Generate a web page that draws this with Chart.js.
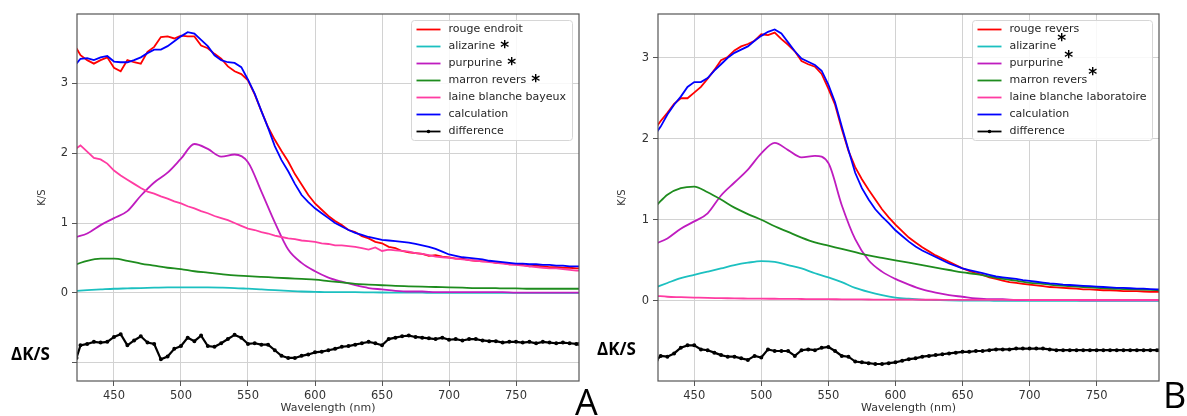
<!doctype html>
<html lang="fr">
<head>
	<meta charset="UTF-8">
	<title>K/S - rouge endroit / rouge revers</title>
	<script src="https://cdn.jsdelivr.net/npm/chart.js@4"></script>
	<style>
		body { margin: 0; background: #fff; width: 1187px; height: 416px; overflow: hidden; position: relative; }
		canvas { position: absolute; top: 0; }
		#chartA { left: 0; }
		#chartB { left: 595px; }
	</style>
</head>
<body>
	<canvas id="chartA" width="600" height="416"></canvas>
	<canvas id="chartB" width="592" height="416"></canvas>
	<script>
		// wavelengths (nm) for the noisy measured curves and for the smooth reference curves
		const wavelengths = [
			422, 425, 430, 435, 440, 445, 450, 455, 460, 465,
			470, 475, 480, 485, 490, 495, 500, 505, 510, 515,
			520, 525, 530, 535, 540, 545, 550, 555, 560, 565,
			570, 575, 580, 585, 590, 595, 600, 605, 610, 615,
			620, 625, 630, 635, 640, 645, 650, 655, 660, 665,
			670, 675, 680, 685, 690, 695, 700, 705, 710, 715,
			720, 725, 730, 735, 740, 745, 750, 755, 760, 765,
			770, 775, 780, 785, 790, 795, 797
		];
		const wavelengthsCoarse = [
			422, 430, 440, 450, 460, 470, 480, 490, 500, 510,
			520, 530, 540, 550, 560, 570, 580, 590, 600, 610,
			620, 630, 640, 650, 660, 670, 680, 690, 700, 710,
			720, 730, 740, 750, 760, 770, 780, 790, 797
		];

		// ---- panel A ----
		const rougeEndroit = [
			3.50, 3.40, 3.33, 3.28, 3.33, 3.37, 3.22, 3.17, 3.33, 3.30,
			3.28, 3.45, 3.52, 3.66, 3.67, 3.64, 3.68, 3.67, 3.67, 3.54,
			3.50, 3.42, 3.35, 3.24, 3.17, 3.13, 3.04, 2.84, 2.60, 2.37,
			2.19, 2.03, 1.88, 1.70, 1.55, 1.40, 1.28, 1.19, 1.10, 1.03,
			0.97, 0.90, 0.87, 0.81, 0.78, 0.73, 0.71, 0.66, 0.64, 0.60,
			0.58, 0.57, 0.56, 0.53, 0.54, 0.52, 0.51, 0.49, 0.49, 0.47,
			0.46, 0.45, 0.45, 0.43, 0.43, 0.41, 0.41, 0.40, 0.38, 0.39,
			0.38, 0.37, 0.37, 0.36, 0.36, 0.35, 0.35
		];
		const calculationA = [
			3.28, 3.35, 3.36, 3.33, 3.37, 3.39, 3.31, 3.30, 3.30, 3.33,
			3.37, 3.43, 3.48, 3.48, 3.53, 3.60, 3.67, 3.73, 3.71, 3.62,
			3.53, 3.40, 3.33, 3.30, 3.29, 3.23, 3.05, 2.85, 2.60, 2.36,
			2.10, 1.90, 1.74, 1.56, 1.40, 1.30, 1.21, 1.14, 1.07, 1.00,
			0.95, 0.90, 0.86, 0.83, 0.80, 0.78, 0.76, 0.75, 0.74, 0.73,
			0.72, 0.70, 0.68, 0.66, 0.63, 0.59, 0.55, 0.53, 0.51, 0.50,
			0.49, 0.48, 0.46, 0.45, 0.44, 0.43, 0.42, 0.42, 0.41, 0.41,
			0.40, 0.40, 0.39, 0.39, 0.38, 0.38, 0.38
		];
		const laineBayeux = [
			2.07, 2.11, 2.02, 1.93, 1.91, 1.85, 1.75, 1.68, 1.62, 1.56,
			1.50, 1.45, 1.42, 1.38, 1.35, 1.31, 1.28, 1.24, 1.21, 1.17,
			1.14, 1.10, 1.07, 1.04, 1.00, 0.96, 0.92, 0.90, 0.87, 0.85,
			0.82, 0.80, 0.78, 0.77, 0.75, 0.74, 0.73, 0.71, 0.70, 0.68,
			0.68, 0.67, 0.66, 0.64, 0.62, 0.65, 0.60, 0.62, 0.61, 0.60,
			0.59, 0.57, 0.56, 0.54, 0.52, 0.51, 0.50, 0.49, 0.48, 0.47,
			0.46, 0.45, 0.44, 0.43, 0.42, 0.41, 0.40, 0.39, 0.38, 0.37,
			0.36, 0.35, 0.35, 0.34, 0.33, 0.32, 0.32
		];
		const differenceA = [
			-0.93, -0.75, -0.73, -0.70, -0.71, -0.70, -0.63, -0.59, -0.75, -0.68,
			-0.62, -0.71, -0.73, -0.95, -0.91, -0.80, -0.76, -0.64, -0.69, -0.61,
			-0.76, -0.77, -0.72, -0.66, -0.60, -0.64, -0.73, -0.72, -0.74, -0.74,
			-0.82, -0.90, -0.93, -0.93, -0.90, -0.88, -0.85, -0.84, -0.82, -0.80,
			-0.77, -0.76, -0.74, -0.72, -0.70, -0.72, -0.75, -0.66, -0.64, -0.62,
			-0.61, -0.63, -0.64, -0.65, -0.66, -0.64, -0.67, -0.66, -0.68, -0.66,
			-0.66, -0.68, -0.69, -0.69, -0.71, -0.70, -0.70, -0.71, -0.70, -0.72,
			-0.70, -0.71, -0.72, -0.71, -0.72, -0.73, -0.73
		];
		const purpurineA = [
			0.80, 0.85, 0.97, 1.07, 1.17, 1.39, 1.58, 1.72, 1.92, 2.13,
			2.06, 1.95, 1.98, 1.87, 1.45, 1.01, 0.62, 0.43, 0.31, 0.22,
			0.16, 0.11, 0.07, 0.05, 0.03, 0.02, 0.02, 0.01, 0.01, 0.01,
			0.01, 0.01, 0.01, 0.005, 0.005, 0.005, 0.005, 0.005, 0.005
		];
		const marronA = [
			0.41, 0.46, 0.49, 0.49, 0.46, 0.42, 0.39, 0.36, 0.34, 0.31,
			0.29, 0.27, 0.25, 0.24, 0.23, 0.22, 0.21, 0.20, 0.19, 0.17,
			0.15, 0.13, 0.12, 0.11, 0.10, 0.095, 0.09, 0.085, 0.08, 0.075,
			0.07, 0.07, 0.065, 0.065, 0.06, 0.06, 0.06, 0.06, 0.06
		];
		const alizarineA = [
			0.03, 0.04, 0.05, 0.06, 0.065, 0.07, 0.075, 0.08, 0.08, 0.08,
			0.078, 0.075, 0.07, 0.06, 0.05, 0.04, 0.03, 0.02, 0.015, 0.01,
			0.01, 0.01, 0.008, 0.006, 0.005, 0.004, 0.003, 0.002, 0.002, 0.001,
			0, 0, 0, 0, 0, 0, 0, 0, 0
		];

		// ---- panel B ----
		const rougeRevers = [
			2.15, 2.22, 2.32, 2.43, 2.50, 2.50, 2.57, 2.64, 2.74, 2.85,
			2.97, 3.01, 3.09, 3.14, 3.17, 3.21, 3.29, 3.28, 3.31, 3.23,
			3.16, 3.08, 2.96, 2.92, 2.89, 2.80, 2.62, 2.42, 2.12, 1.85,
			1.65, 1.50, 1.37, 1.25, 1.13, 1.03, 0.94, 0.86, 0.78, 0.72,
			0.66, 0.61, 0.56, 0.52, 0.48, 0.44, 0.40, 0.37, 0.34, 0.32,
			0.29, 0.27, 0.25, 0.23, 0.22, 0.21, 0.20, 0.19, 0.18, 0.17,
			0.165, 0.16, 0.155, 0.15, 0.14, 0.14, 0.135, 0.13, 0.13, 0.125,
			0.12, 0.12, 0.12, 0.115, 0.11, 0.11, 0.11
		];
		const calculationB = [
			2.08, 2.15, 2.30, 2.42, 2.52, 2.64, 2.70, 2.70, 2.75, 2.84,
			2.92, 3.00, 3.06, 3.10, 3.14, 3.21, 3.27, 3.32, 3.35, 3.30,
			3.19, 3.08, 2.99, 2.95, 2.91, 2.84, 2.67, 2.45, 2.15, 1.86,
			1.58, 1.39, 1.25, 1.13, 1.04, 0.96, 0.87, 0.80, 0.73, 0.67,
			0.62, 0.58, 0.54, 0.50, 0.46, 0.43, 0.40, 0.38, 0.36, 0.34,
			0.32, 0.30, 0.29, 0.28, 0.27, 0.255, 0.245, 0.235, 0.225, 0.215,
			0.21, 0.20, 0.195, 0.19, 0.185, 0.18, 0.175, 0.17, 0.165, 0.16,
			0.16, 0.155, 0.15, 0.15, 0.145, 0.14, 0.14
		];
		const differenceB = [
			-0.73, -0.68, -0.69, -0.65, -0.58, -0.55, -0.55, -0.60, -0.61, -0.64,
			-0.67, -0.69, -0.69, -0.71, -0.73, -0.68, -0.70, -0.60, -0.62, -0.62,
			-0.62, -0.68, -0.61, -0.60, -0.61, -0.58, -0.57, -0.62, -0.68, -0.69,
			-0.75, -0.76, -0.77, -0.78, -0.78, -0.77, -0.76, -0.74, -0.72, -0.71,
			-0.69, -0.68, -0.67, -0.66, -0.65, -0.64, -0.63, -0.63, -0.62, -0.62,
			-0.61, -0.60, -0.60, -0.60, -0.59, -0.59, -0.59, -0.59, -0.59, -0.60,
			-0.61, -0.61, -0.61, -0.61, -0.61, -0.61, -0.61, -0.61, -0.61, -0.61,
			-0.61, -0.61, -0.61, -0.61, -0.61, -0.61, -0.61
		];
		const purpurineB = [
			0.71, 0.77, 0.89, 0.98, 1.08, 1.30, 1.46, 1.62, 1.82, 1.95,
			1.86, 1.77, 1.79, 1.70, 1.18, 0.76, 0.50, 0.36, 0.27, 0.20,
			0.14, 0.10, 0.07, 0.05, 0.03, 0.02, 0.02, 0.01, 0.01, 0.01,
			0.01, 0.01, 0.005, 0.005, 0.005, 0.005, 0.005, 0.005, 0.005
		];
		const marronB = [
			1.18, 1.31, 1.39, 1.41, 1.34, 1.25, 1.15, 1.07, 1.00, 0.92,
			0.85, 0.78, 0.72, 0.68, 0.64, 0.60, 0.56, 0.53, 0.50, 0.47,
			0.44, 0.41, 0.38, 0.35, 0.33, 0.30, 0.27, 0.25, 0.22, 0.21,
			0.19, 0.18, 0.17, 0.16, 0.15, 0.145, 0.14, 0.135, 0.13
		];
		const alizarineB = [
			0.17, 0.22, 0.28, 0.32, 0.36, 0.40, 0.44, 0.47, 0.49, 0.48,
			0.44, 0.40, 0.34, 0.29, 0.23, 0.16, 0.11, 0.07, 0.04, 0.025,
			0.015, 0.01, 0.005, 0.003, 0.002, 0.001, 0, 0, 0, 0,
			0, 0, 0, 0, 0, 0, 0, 0, 0
		];
		const laineLabo = [
			0.06, 0.05, 0.045, 0.04, 0.035, 0.033, 0.03, 0.028, 0.026, 0.025,
			0.024, 0.022, 0.02, 0.02, 0.018, 0.017, 0.016, 0.015, 0.015, 0.014,
			0.013, 0.013, 0.012, 0.012, 0.012, 0.011, 0.011, 0.011, 0.01, 0.01,
			0.01, 0.01, 0.01, 0.01, 0.01, 0.01, 0.01, 0.01, 0.01
		];

		const labelsA = ['rouge endroit', 'alizarine', 'purpurine', 'marron revers', 'laine blanche bayeux', 'calculation', 'difference'];
		const labelsB = ['rouge revers', 'alizarine', 'purpurine', 'marron revers', 'laine blanche laboratoire', 'calculation', 'difference'];
		const starred = ['alizarine', 'purpurine', 'marron revers'];
		const colors = ['#ff0000', '#1cc0c0', '#bf1cbf', '#1e8c1e', '#ff3ca2', '#0000ff', '#000000'];

		const tickFont = { family: 'DejaVu Sans', size: 11.5 };

		function points(xs, ys) {
			return xs.map((x, i) => ({ x: x, y: ys[i] }));
		}

		function buildDatasets(labels, series) {
			return series.map((s, i) => {
				const smooth = s[0] === wavelengthsCoarse;
				return {
					label: labels[i],
					data: points(s[0], s[1]),
					borderColor: colors[i],
					backgroundColor: colors[i],
					borderWidth: i === 6 ? 2.2 : 1.8,
					pointRadius: i === 6 ? 0.9 : 0,
					pointHoverRadius: 0,
					tension: smooth ? 0.4 : 0,
					cubicInterpolationMode: smooth ? 'monotone' : 'default',
					order: 6 - i,
				};
			});
		}

		// axes frame, boxed legend and the hand-written annotations
		function annotations(cfg) {
			return {
				id: 'annotations',
				afterDraw(chart) {
					const ctx = chart.ctx;
					const a = chart.chartArea;
					ctx.save();
					ctx.strokeStyle = '#555';
					ctx.lineWidth = 1.2;
					ctx.strokeRect(a.left, a.top, a.right - a.left, a.bottom - a.top);

					// legend
					const L = cfg.legend;
					ctx.fillStyle = 'rgba(255,255,255,0.85)';
					ctx.strokeStyle = '#d6d6d6';
					ctx.lineWidth = 1;
					ctx.beginPath();
					ctx.roundRect(L.x, L.y, L.w, L.h, 3);
					ctx.fill();
					ctx.stroke();
					ctx.font = '11px "DejaVu Sans"';
					ctx.textBaseline = 'middle';
					chart.data.datasets.forEach((ds, i) => {
						const y = L.y + 9 + i * 17;
						ctx.strokeStyle = ds.borderColor;
						ctx.lineWidth = 1.8;
						ctx.beginPath();
						ctx.moveTo(L.x + 5, y);
						ctx.lineTo(L.x + 29, y);
						ctx.stroke();
						if (i === 6) {
							ctx.fillStyle = '#000';
							ctx.beginPath();
							ctx.arc(L.x + 17, y, 1.8, 0, Math.PI * 2);
							ctx.fill();
						}
						ctx.fillStyle = '#262626';
						ctx.textAlign = 'left';
						ctx.fillText(ds.label, L.x + 37, y);
						if (starred.includes(ds.label)) {
							const w = ctx.measureText(ds.label).width;
							ctx.save();
							ctx.font = 'bold 17px "DejaVu Sans"';
							ctx.fillStyle = '#000';
							ctx.fillText('*', L.x + 37 + w + cfg.starGap, y + 2 + cfg.starLift);
							ctx.restore();
						}
					});

					ctx.fillStyle = '#000';
					ctx.textAlign = 'left';
					ctx.textBaseline = 'alphabetic';
					ctx.font = 'bold 17px "Open Sans"';
					ctx.fillText('\u0394K/S', cfg.delta.x, cfg.delta.y);
					ctx.font = '36px "Open Sans"';
					ctx.fillText(cfg.letter.text, cfg.letter.x, cfg.letter.y);
					ctx.restore();
				}
			};
		}

		function makeChart(id, p) {
			return new Chart(document.getElementById(id), {
				type: 'line',
				data: { datasets: p.datasets },
				options: {
					responsive: false,
					animation: false,
					devicePixelRatio: 1,
					layout: { padding: { top: 14, left: p.padLeft, right: p.padRight, bottom: 0 } },
					plugins: { legend: { display: false }, tooltip: { enabled: false } },
					scales: {
						x: {
							type: 'linear',
							min: p.xMin,
							max: p.xMax,
							afterFit: (s) => { s.height = 35; },
							border: { display: false },
							grid: { color: '#d2d2d2', tickColor: '#555', tickLength: 5 },
							ticks: { stepSize: 50, includeBounds: false, maxRotation: 0, padding: 3, color: '#333', font: tickFont },
							title: { display: true, text: 'Wavelength (nm)', color: '#333', font: { family: 'DejaVu Sans', size: 11 }, padding: { top: 0, bottom: 1 } },
						},
						y: {
							min: p.yMin,
							max: p.yMax,
							afterFit: (s) => { s.width = p.yWidth; },
							border: { display: false },
							grid: { color: '#d2d2d2', tickColor: '#555', tickLength: 5 },
							ticks: {
								stepSize: 1,
								includeBounds: false,
								padding: 4,
								color: '#333',
								font: tickFont,
								callback: (v) => (v < -0.5 ? '' : v),
							},
							title: { display: true, text: 'K/S', color: '#333', font: { family: 'DejaVu Sans', size: 10 } },
						},
					},
				},
				plugins: [annotations(p.notes)],
			});
		}

		makeChart('chartA', {
			datasets: buildDatasets(labelsA, [
				[wavelengths, rougeEndroit],
				[wavelengthsCoarse, alizarineA],
				[wavelengthsCoarse, purpurineA],
				[wavelengthsCoarse, marronA],
				[wavelengths, laineBayeux],
				[wavelengths, calculationA],
				[wavelengths, differenceA],
			]),
			xMin: 422.4, xMax: 797,
			yMin: -1.26, yMax: 3.99,
			padLeft: 32, padRight: 21, yWidth: 45,
			notes: {
				legend: { x: 411.5, y: 20.5, w: 161, h: 120 },
				starGap: 5, starLift: 0,
				delta: { x: 11, y: 360 },
				letter: { text: 'A', x: 575, y: 415 },
			},
		});

		makeChart('chartB', {
			datasets: buildDatasets(labelsB, [
				[wavelengths, rougeRevers],
				[wavelengthsCoarse, alizarineB],
				[wavelengthsCoarse, purpurineB],
				[wavelengthsCoarse, marronB],
				[wavelengthsCoarse, laineLabo],
				[wavelengths, calculationB],
				[wavelengths, differenceB],
			]),
			xMin: 423, xMax: 796.5,
			yMin: -0.99, yMax: 3.54,
			padLeft: 17, padRight: 28, yWidth: 46,
			notes: {
				legend: { x: 377.5, y: 20.5, w: 180, h: 120 },
				starGap: 1, starLift: -7,
				delta: { x: 2, y: 355 },
				letter: { text: 'B', x: 568, y: 408 },
			},
		});
	</script>
</body>
</html>
